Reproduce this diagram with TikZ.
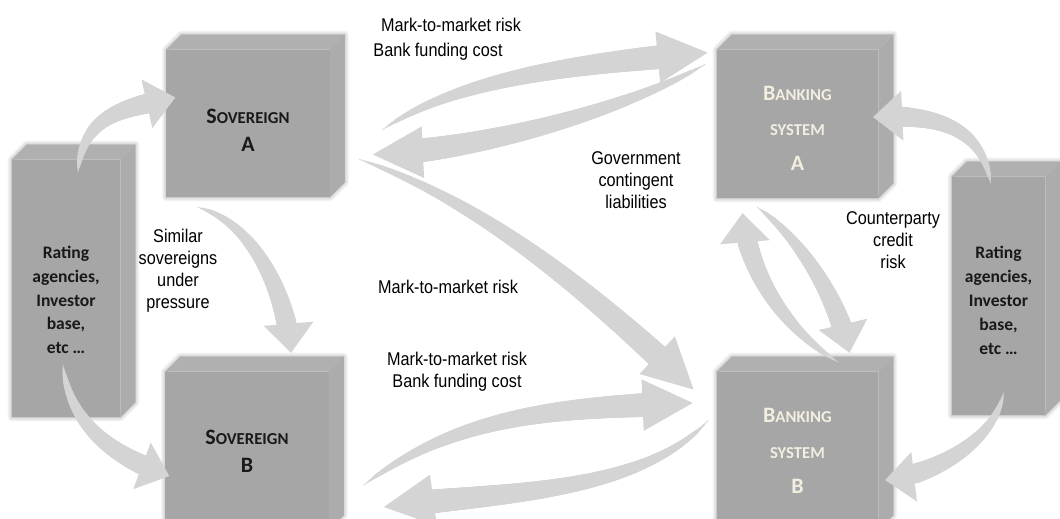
\documentclass[tikz,border=0pt]{standalone}
\usepackage{fontspec}
\usepackage{tikz}
\usetikzlibrary{positioning,calc,decorations.markings}
\newfontfamily\narrowfont{Liberation Sans}[FakeStretch=0.88]
\newfontfamily\boxfont{Carlito}

\definecolor{boxgray}{RGB}{166,166,166}
\definecolor{boxtop}{RGB}{176,176,176}
\definecolor{boxside}{RGB}{172,172,172}
\definecolor{arrowgray}{RGB}{212,212,212}
\definecolor{cream}{RGB}{242,238,224}
\definecolor{inkdark}{RGB}{25,25,25}

\pgfdeclarelayer{back}
\pgfsetlayers{back,main}

\newcommand\capsc[2]{{\fontsize{12.5}{16}\selectfont #1}{\fontsize{9.5}{16}\selectfont #2}}
\newcommand\toppad[1]{\rule{0pt}{#1}}

\tikzset{
  cube/.style={fill=boxgray, inner sep=0pt, align=center},
  sovbox/.style={cube, text=inkdark, font=\boxfont\bfseries\fontsize{12.5}{16}\selectfont,
    minimum width=32.6mm},
  bankbox/.style={cube, text=cream, font=\boxfont\bfseries\fontsize{12.5}{20}\selectfont,
    minimum width=32.2mm},
  ratebox/.style={cube, text=inkdark, font=\boxfont\bfseries\fontsize{10}{13.6}\selectfont},
  note/.style={align=center, inner sep=0pt, font=\narrowfont\fontsize{10.5}{12.5}\selectfont},
  flow/.style n args={3}{
    preaction={decorate, decoration={markings,
      mark=between positions 0 and -#3 step 0.8pt with {
        \pgfmathsetmacro\flowr{#1*pow(max(0.01,min(1,\pgfkeysvalueof{/pgf/decoration/mark info/distance from start}/(\pgfdecoratedpathlength-#3))),0.6)}
        \fill[arrowgray] (0pt,0pt) circle (\flowr pt);}}},
    postaction={decorate, decoration={markings,
      mark=at position 0.999 with {\fill[arrowgray] (0.2pt,0pt) -- (-#3,#2) -- (-#3,-#2) -- cycle;}}}},
  longflow/.style={flow={6.8pt}{14.7pt}{28.3pt}},
  shortflow/.style={flow={5.7pt}{14.2pt}{16.4pt}}
}

\begin{document}
\begin{tikzpicture}[x=0.2mm, y=-0.2mm]
    \useasboundingbox (0,0) rectangle (1060,519);

    \node[sovbox, minimum height=29.4mm] (sovA) at (248,123.5) {\toppad{16pt}\capsc{S}{OVEREIGN}\\A};
    \node[sovbox, minimum height=31.6mm] (sovB) at (247,451) {\capsc{S}{OVEREIGN}\\B};
    \node[bankbox, minimum height=29.6mm] (bankA) at (797.5,124) {\toppad{12.7pt}\capsc{B}{ANKING}\\\capsc{}{SYSTEM}\\A};
    \node[bankbox, minimum height=31.6mm] (bankB) at (797.5,451) {\capsc{B}{ANKING}\\\capsc{}{SYSTEM}\\B};
    \node[ratebox, minimum width=21.6mm, minimum height=51.4mm] (rateL) at (66,288.5)
        {\toppad{20pt}Rating\\agencies,\\Investor\\base,\\etc …};
    \node[ratebox, minimum width=18.6mm, minimum height=47.6mm] (rateR) at (998.5,296)
        {\toppad{12pt}Rating\\agencies,\\Investor\\base,\\etc …};

    \begin{pgfonlayer}{back}
    \foreach \b in {sovA,sovB,bankA,bankB,rateL,rateR}{
        \foreach \s in {2,4,6,8}
            \filldraw[black, opacity=0.04, line width=\s*0.2mm, line join=round, shift={(3,3)}]
                (\b.north west) -- ++(15,-15) -- ($(\b.north east)+(15,-15)$)
                -- ($(\b.south east)+(15,-15)$) -- (\b.south east) -- (\b.south west) -- cycle;
        \fill[boxtop] (\b.north west) -- ++(15,-15) -- ($(\b.north east)+(15,-15)$) -- (\b.north east) -- cycle;
        \fill[boxside] (\b.north east) -- ++(15,-15) -- ($(\b.south east)+(15,-15)$) -- (\b.south east) -- cycle;
    }
    \end{pgfonlayer}

    \node[note] (mtmTop) at (451,25) {Mark-to-market risk};
    \node[note] (fundTop) at (438,52) {Bank funding cost};
    \node[note] (govLab) at (636,180) {Government\\contingent\\liabilities};
    \node[note] (simLab) at (178,271) {Similar\\sovereigns\\under\\pressure};
    \node[note] (mtmMid) at (448,287) {Mark-to-market risk};
    \node[note] (mtmLow) at (457,371.5) {Mark-to-market risk\\Bank funding cost};
    \node[note] (cptyLab) at (893,240) {Counterparty\\credit\\risk};

    \path[shortflow] ($(rateL.north)+(12,12)$) .. controls +(5,-60) and +(-45,10) .. ($(sovA.west)+(9,-26)$);
    \path[shortflow] ($(rateL.south)+(-3,-52)$) .. controls +(8,70) and +(-40,-15) .. ($(sovB.west)+(4,25)$);

    \path[longflow] ($(sovA.east)+(53,6)$) .. controls +(80,-55) and +(-110,10) .. ($(bankA.north west)+(-9,3)$);
    \path[longflow] ($(bankA.north west)+(-12,15)$) .. controls +(-80,45) and +(110,-5) .. ($(sovA.east)+(43,31)$);
    \path[longflow] ($(sovA.east)+(30,36)$) .. controls +(130,45) and +(-90,-85) .. ($(bankB.north west)+(-23,18)$);
    \path[shortflow] ($(sovA.south)+(-50,10)$) .. controls +(55,15) and +(-5,-60) .. ($(sovB.north)+(44,-19)$);

    \path[longflow] ($(sovB.east)+(35,34)$) .. controls +(100,-75) and +(-120,5) .. ($(bankB.west)+(-24,-48)$);
    \path[longflow] ($(bankB.west)+(-9,-30)$) .. controls +(-70,75) and +(110,-15) .. ($(sovB.east)+(55,56)$);

    \path[shortflow] ($(bankB.north)+(40,-10)$) .. controls +(-50,-30) and +(5,60) .. ($(bankA.south)+(-55,15)$);
    \path[shortflow] ($(bankA.south)+(-40,9)$) .. controls +(35,25) and +(-15,-65) .. ($(bankB.north)+(52,-19)$);

    \path[shortflow] ($(rateR.north)+(-8,6)$) .. controls +(-10,-65) and +(45,-2) .. ($(bankA.east)+(-5,-7)$);
    \path[shortflow] ($(rateR.south)+(5,-22)$) .. controls +(-10,50) and +(45,-5) .. ($(bankB.east)+(7,29)$);

\end{tikzpicture}
\end{document}
